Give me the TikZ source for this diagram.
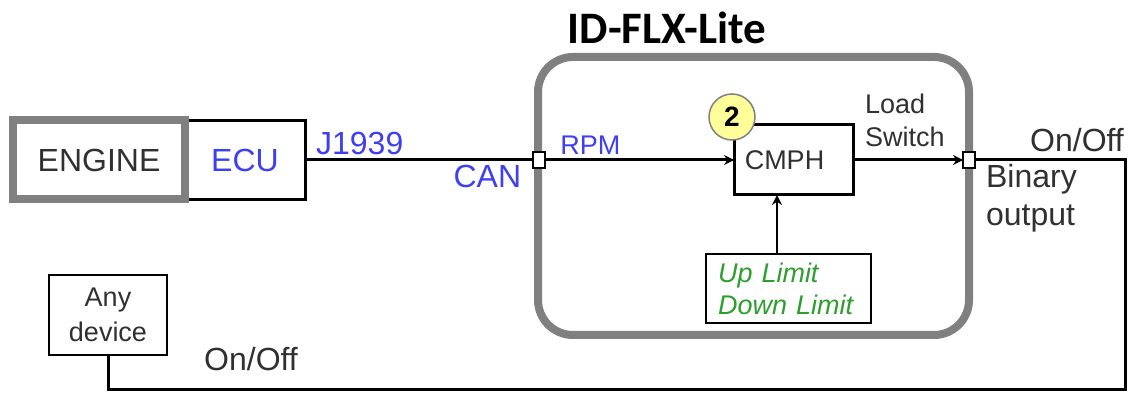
\documentclass[tikz,border=0pt]{standalone}
\usepackage{fontspec}
\setmainfont{Liberation Sans}
\newfontfamily\titlefont{Carlito}
\usetikzlibrary{arrows.meta, positioning, calc}
\definecolor{SigBlue}{HTML}{3F3FF2}
\definecolor{ParGreen}{HTML}{2E9E2E}
\definecolor{FrameGray}{HTML}{808080}
\definecolor{TextDark}{HTML}{303030}
\definecolor{BadgeYellow}{HTML}{FFFF99}
\tikzset{
    % Text sizes
    bigtext/.style={font=\fontsize{16}{19}\selectfont},
    smalltext/.style={font=\fontsize{13.5}{16.5}\selectfont},
    % Engine box style
    engine/.style={
        rectangle,
        draw=FrameGray,
        fill=white,
        line width=4pt,
        outer sep=0pt,
        minimum width=86pt,
        minimum height=39.5pt,
        text=TextDark,
        bigtext
    },
    % Black block style
    block/.style={
        rectangle,
        draw=black,
        fill=white,
        line width=1.5pt,
        outer sep=0pt,
        align=center
    },
    % Thin box style
    thinbox/.style={
        rectangle,
        draw=black,
        fill=white,
        line width=0.75pt,
        outer sep=0pt
    },
    % Port square
    port/.style={
        rectangle,
        draw=black,
        fill=white,
        line width=0.75pt,
        minimum width=6pt,
        minimum height=8pt,
        inner sep=0pt,
        outer sep=0pt
    },
    % Device frame
    frame/.style={
        rectangle,
        draw=FrameGray,
        line width=4pt,
        rounded corners=17.5pt,
        outer sep=0pt,
        minimum width=215.5pt,
        minimum height=139pt
    },
    % Numbered badge
    badge/.style={
        circle,
        draw=FrameGray,
        fill=BadgeYellow,
        line width=0.75pt,
        minimum size=23pt,
        inner sep=0pt,
        font=\fontsize{14}{16}\selectfont\bfseries
    },
    % Signal label
    signal/.style={text=SigBlue, inner sep=2pt},
    % Arrow style
    arrow/.style={
        -{Stealth[length=5pt, width=5pt]},
        line width=1.5pt,
        color=black
    },
    % Plain wire
    wire/.style={line width=1.5pt, color=black}
}
\begin{document}
\begin{tikzpicture}[x=0.5pt, y=-0.5pt]
    \useasboundingbox (0,0) rectangle (1134,394);

    % ID-FLX-Lite device
    \node (flx) [frame] at (753.5,196) {};
    \node (title) at (667,28) {\titlefont\fontsize{22.5}{26}\selectfont\bfseries ID-FLX-Lite};

    % Engine side
    \node (ecu) [block, minimum width=60pt, minimum height=39.5pt, text=SigBlue, bigtext] at (245,160) {ECU};
    \node (engine) [engine, left=0pt of ecu] {ENGINE};

    % Inside the device
    \node (cmph) [block, minimum width=59.5pt, minimum height=35pt, text=TextDark, smalltext] at (793.5,160) {CMPH\hspace{9pt}};
    \node (badge) [badge] at (732,117) {2};
    \node (limits) [thinbox, minimum width=82.5pt, minimum height=34.5pt, text width=70.5pt, inner xsep=6pt,
        align=left, text=ParGreen, font=\fontsize{13.5}{16}\selectfont\itshape] at (788.5,288.5) {Up Limit\\Down Limit};
    \node (load) [anchor=west, align=left, text=TextDark, smalltext] at (858,120) {Load\\Switch};

    % Ports on the frame
    \node (inCAN) [port] at (539,160) {};
    \node (outBin) [port] at (969,160) {};
    \node (binary) [anchor=west, align=left, text=TextDark, bigtext] at (979,198) {Binary\\output};
    \node (onoff1) [text=TextDark, bigtext] at (1077,140) {On/Off};

    % Any device
    \node (anydev) [thinbox, minimum width=59pt, minimum height=40pt, align=center, text=TextDark,
        font=\fontsize{13.5}{17.5}\selectfont] at (108,315) {Any\\device};
    \node (onoff2) [text=TextDark, bigtext] at (251,359) {On/Off};
    \coordinate (corner) at (1125,390);

    % Connections
    \draw [wire] (ecu.east) -- node[signal, above, pos=0.24, bigtext] {J1939}
        node[signal, below, pos=0.80, bigtext] {CAN} (inCAN.west);
    \draw [arrow] (inCAN.east) -- node[signal, above, pos=0.24, smalltext] {RPM} (cmph.west);
    \draw [arrow] (cmph.east) -- (outBin.west);
    \coordinate (limtop) at ([xshift=-5.75pt]limits.north);
    \draw [-{Stealth[length=5pt, width=5pt]}, line width=0.75pt] (limtop) -- (limtop |- cmph.south);
    \draw [wire] (anydev.south) |- (corner) |- (outBin.east);

    % Redraw ports on top
    \node [port] at (inCAN) {};
    \node [port] at (outBin) {};
\end{tikzpicture}
\end{document}
